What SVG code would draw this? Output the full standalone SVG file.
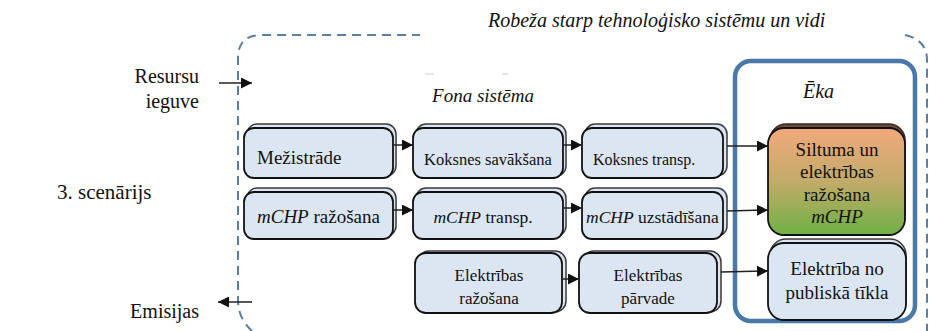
<svg xmlns="http://www.w3.org/2000/svg" width="929" height="331" viewBox="0 0 929 331" font-family="'Liberation Serif', Tinos, 'Times New Roman', Times, serif">
<defs>
<marker id="ah" viewBox="0 0 10 10" refX="10" refY="5" markerWidth="11" markerHeight="11" markerUnits="userSpaceOnUse" orient="auto"><path d="M0,0 L10,5 L0,10 z" fill="#111"/></marker>
<linearGradient id="chp" x1="0" y1="0" x2="0" y2="1"><stop offset="0" stop-color="#f1a97c"/><stop offset="0.5" stop-color="#c2ab6a"/><stop offset="1" stop-color="#6fb043"/></linearGradient>
<style>
text{fill:#111}
.it{font-style:italic}
.back{fill:#dce6f2;stroke:#3a3a3a;stroke-width:1.5}
.front{fill:#dce6f2;stroke:#111;stroke-width:1.8}
.conn{stroke:#222;stroke-width:1.5;fill:none;marker-end:url(#ah)}
.bound{fill:none;stroke:#5b7fa3;stroke-width:2;stroke-dasharray:9 6}
.mid{text-anchor:middle}
.end{text-anchor:end}
</style>
</defs>
<rect width="929" height="331" fill="#fff"/>
<g id="boundary">
<path class="bound" d="M252,331 Q238,318 238,300 L238,58 Q238,35 262,35 L420,35"/>
<path class="bound" d="M905,35 Q927,40 927,60 L927,331"/>
<line x1="425" y1="74" x2="434" y2="74" stroke="#ccc" stroke-width="1"/>
<line x1="502" y1="74" x2="508" y2="74" stroke="#ccc" stroke-width="1"/>
</g>
<g id="labels">
<text x="488" y="27" class="it" font-size="20">Robeža starp tehnoloģisko sistēmu un vidi</text>
<text x="199" y="83" class="end" font-size="20">Resursu</text>
<text x="199" y="108" class="end" font-size="20">ieguve</text>
<text x="57" y="199" font-size="21">3. scenārijs</text>
<text x="199" y="318" class="end" font-size="20">Emisijas</text>
<text x="483" y="102" class="it mid" font-size="19">Fona sistēma</text>
</g>
<g id="eka">
<rect x="735" y="61" width="180" height="260" rx="16" fill="none" stroke="#4a78a8" stroke-width="4.5"/>
<text x="803" y="98" class="it" font-size="20">Ēka</text>
</g>
<g id="n-mezistrade">
<rect class="back" x="247" y="124" width="149" height="52" rx="10"/>
<rect class="front" x="244" y="128" width="149" height="50" rx="10"/>
<text x="257" y="164" font-size="19">Mežistrāde</text>
</g>
<g id="n-koksnes-savaksana">
<rect class="back" x="416" y="124" width="150" height="52" rx="10"/>
<rect class="front" x="413" y="128" width="150" height="50" rx="10"/>
<text x="488" y="165" class="mid" font-size="16.5">Koksnes savākšana</text>
</g>
<g id="n-koksnes-transp">
<rect class="back" x="585" y="124" width="142" height="52" rx="10"/>
<rect class="front" x="582" y="128" width="141" height="50" rx="10"/>
<text x="593" y="165" font-size="16">Koksnes transp.</text>
</g>
<g id="n-mchp-razosana">
<rect class="back" x="247" y="188" width="149" height="48" rx="10"/>
<rect class="front" x="244" y="192" width="149" height="47" rx="10"/>
<text x="257" y="223" font-size="19"><tspan class="it">mCHP</tspan> ražošana</text>
</g>
<g id="n-mchp-transp">
<rect class="back" x="416" y="188" width="150" height="48" rx="10"/>
<rect class="front" x="413" y="192" width="150" height="47" rx="10"/>
<text x="483" y="223" class="mid" font-size="17.5"><tspan class="it">mCHP</tspan> transp.</text>
</g>
<g id="n-mchp-uzstadisana">
<rect class="back" x="585" y="188" width="142" height="48" rx="10"/>
<rect class="front" x="582" y="192" width="141" height="47" rx="10"/>
<text x="586" y="223" font-size="17.5"><tspan class="it">mCHP</tspan> uzstādīšana</text>
</g>
<g id="n-elektribas-razosana">
<rect class="back" x="418" y="251" width="148" height="61" rx="11"/>
<rect class="front" x="415" y="253" width="147" height="60" rx="11"/>
<text x="489" y="281" class="mid" font-size="17">Elektrības</text>
<text x="489" y="304" class="mid" font-size="17">ražošana</text>
</g>
<g id="n-elektribas-parvade">
<rect class="back" x="583" y="251" width="138" height="61" rx="11"/>
<rect class="front" x="579" y="253" width="138" height="60" rx="11"/>
<text x="648" y="281" class="mid" font-size="17">Elektrības</text>
<text x="648" y="304" class="mid" font-size="17">pārvade</text>
</g>
<g id="n-siltuma">
<rect x="770" y="124" width="135" height="108" rx="16" fill="#6b4a3a" stroke="#3a2a20" stroke-width="1.5"/>
<rect x="768" y="128" width="137" height="107" rx="16" fill="url(#chp)" stroke="#111" stroke-width="1.8"/>
<text x="837" y="156" class="mid" font-size="19">Siltuma un</text>
<text x="837" y="178" class="mid" font-size="19">elektrības</text>
<text x="837" y="201" class="mid" font-size="19">ražošana</text>
<text x="837" y="223" class="mid it" font-size="19">mCHP</text>
</g>
<g id="n-elektriba-tikls">
<rect class="back" x="770" y="239" width="136" height="78" rx="16"/>
<rect class="front" x="768" y="243" width="138" height="77" rx="16"/>
<text x="837" y="275" class="mid" font-size="19">Elektrība no</text>
<text x="837" y="299" class="mid" font-size="19">publiskā tīkla</text>
</g>
<g id="connectors">
<line class="conn" x1="219" y1="83" x2="252" y2="83"/>
<line class="conn" x1="252" y1="302" x2="218" y2="302"/>
<line class="conn" x1="393" y1="145" x2="413" y2="145"/>
<line class="conn" x1="563" y1="145" x2="582" y2="145"/>
<line class="conn" x1="727" y1="146" x2="768" y2="146"/>
<line class="conn" x1="393" y1="210" x2="413" y2="210"/>
<line class="conn" x1="563" y1="208" x2="582" y2="208"/>
<line class="conn" x1="727" y1="211" x2="768" y2="210"/>
<line class="conn" x1="562" y1="279" x2="579" y2="279"/>
<line class="conn" x1="721" y1="272" x2="768" y2="271"/>
</g>
</svg>
